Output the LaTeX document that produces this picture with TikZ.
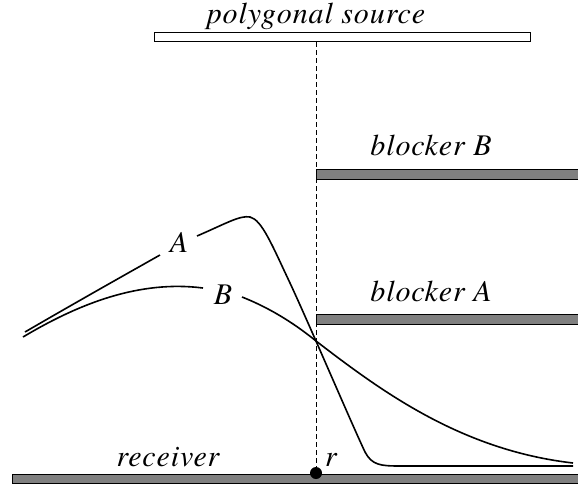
\documentclass[tikz,border=0pt]{standalone}
\usepackage{fontspec}
\setmainfont{TeX Gyre Termes}[LetterSpace=3]
\begin{document}
\begin{tikzpicture}[x=1pt,y=-1pt,
  lbl/.style={font=\fontsize{30}{36}\selectfont\itshape, inner sep=0pt, anchor=base},
  slab/.style={draw=black, line width=1.4pt, fill={rgb,255:red,128;green,128;blue,128}, inner sep=0pt, anchor=north west},
  curve/.style={line width=1.6pt}]
\useasboundingbox (0,0) rectangle (578,490);
% source
\node[draw, line width=1.4pt, minimum width=376pt, minimum height=9pt, inner sep=0pt, anchor=north west] (src) at (154,32) {};
\node[lbl] (srcl) at (316,23) {polygonal source};
% blockers and receiver
\node[slab, minimum width=268pt, minimum height=10pt] (bB) at (316,169) {};
\node[slab, minimum width=268pt, minimum height=10pt] (bA) at (316,314) {};
\node[slab, minimum width=572pt, minimum height=9pt] (rcv) at (12,474) {};
\node[lbl] (bBl) at (431,155) {blocker B};
\node[lbl] (bAl) at (431,301) {blocker A};
\node[lbl] (rcvl) at (168,466) {receiver};
% point r
\node[circle, fill=black, inner sep=0pt, minimum size=12pt] (r) at (316,473) {};
\node[lbl] (rl) at (331,466) {r};
\draw[line width=0.7pt, dash pattern=on 5pt off 3pt] (src.south -| r) -- (r);
% curve A
\node[lbl] (Al) at (179,252) {A};
\draw[curve] (25,332) .. controls (80,300) and (130,272) .. (160,255);
\draw[curve] (197,236) .. controls (225,224) and (240,215) .. (250,217)
  .. controls (262,220) and (272,245) .. (290,283)
  .. controls (310,326) and (350,420) .. (365,452)
  .. controls (372,465) and (380,466) .. (400,466) -- (573,466);
% curve B
\node[lbl] (Bl) at (223,304) {B};
\draw[curve] (23,337) .. controls (80,303) and (140,280) .. (203,288);
\draw[curve] (242,297) .. controls (275,310) and (300,328) .. (316,341)
  .. controls (380,390) and (460,450) .. (573,463);
\end{tikzpicture}
\end{document}
